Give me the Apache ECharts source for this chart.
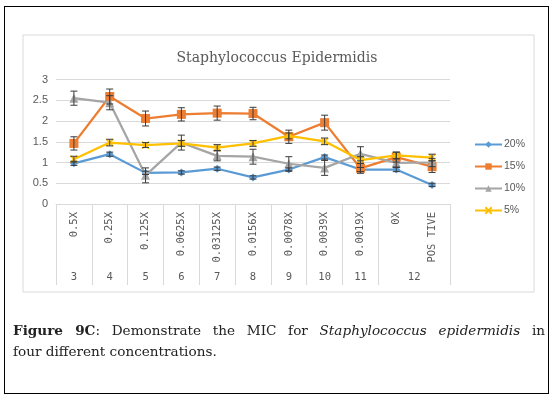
<!DOCTYPE html>
<html>
<head>
<meta charset="utf-8">
<script src="https://cdn.jsdelivr.net/npm/echarts@6/dist/echarts.min.js"></script>
<style>
  html, body { margin: 0; padding: 0; background: #fff; }
  #wrap { position: relative; width: 554px; height: 398px; }
  #chart { position: absolute; left: 0; top: 0; width: 554px; height: 398px; }
  #frame { position: absolute; left: 4px; top: 6px; width: 545px; height: 388px; border: 1.5px solid #000; box-sizing: border-box; }
  #caption { position: absolute; left: 13px; top: 320px; width: 532px; font-family: "DejaVu Serif", serif; font-size: 13.6px; line-height: 21px; color: #222; }
  #caption .l1 { display: block; text-align: justify; text-align-last: justify; }
</style>
</head>
<body>
<div id="wrap">
  <div id="frame"></div>
  <div id="chart"></div>
  <div id="caption"><span class="l1"><b>Figure 9C</b>: Demonstrate the MIC for <i>Staphylococcus epidermidis</i> in</span>four different concentrations.</div>
</div>
<script>
// 数据
const categories = ['0.5X', '0.25X', '0.125X', '0.0625X', '0.03125X', '0.0156X', '0.0078X', '0.0039X', '0.0019X', '0X', 'POS TIVE']
const groupLabels = ['3', '4', '5', '6', '7', '8', '9', '10', '11', '12']
const groupSpans = [1, 1, 1, 1, 1, 1, 1, 1, 1, 2]
const seriesNames = ['20%', '15%', '10%', '5%']
const values20 = [0.98, 1.20, 0.75, 0.76, 0.85, 0.64, 0.83, 1.13, 0.83, 0.83, 0.46]
const values15 = [1.46, 2.59, 2.06, 2.16, 2.19, 2.18, 1.62, 1.96, 0.86, 1.13, 0.90]
const values10 = [2.55, 2.44, 0.69, 1.48, 1.16, 1.14, 0.97, 0.87, 1.21, 0.99, 1.00]
const values5 = [1.08, 1.48, 1.42, 1.46, 1.36, 1.46, 1.64, 1.51, 1.06, 1.17, 1.12]
const errors20 = [0.05, 0.05, 0.04, 0.04, 0.04, 0.04, 0.04, 0.05, 0.05, 0.05, 0.04]
const errors15 = [0.16, 0.18, 0.18, 0.16, 0.17, 0.15, 0.16, 0.18, 0.12, 0.12, 0.14]
const errors10 = [0.17, 0.17, 0.18, 0.18, 0.12, 0.18, 0.17, 0.18, 0.17, 0.10, 0.10]
const errors5 = [0.07, 0.08, 0.06, 0.07, 0.07, 0.07, 0.07, 0.08, 0.08, 0.08, 0.08]
const yMin = 0
const yMax = 3
const yStep = 0.5

const colors = ['#5B9BD5', '#ED7D31', '#A5A5A5', '#FFC000']
const symbols = ['diamond', 'rect', 'triangle', 'path://M0,0 L10,10 M10,0 L0,10']
const symbolSizes = [8, 9, 9, 7]
const allValues = [values20, values15, values10, values5]
const allErrors = [errors20, errors15, errors10, errors5]

// 分组标签的位置 (组中心 / 组边界)
let groupBounds = [0]
let groupCenters = []
groupSpans.forEach(function (s) {
  let start = groupBounds[groupBounds.length - 1]
  groupCenters.push(start + s / 2)
  groupBounds.push(start + s)
})

const axisFont = 'DejaVu Sans Mono'
const grey = '#595959'

let myChart = echarts.init(document.getElementById('chart'))

let lineSeries = seriesNames.map(function (name, k) {
  return {
    name: name,
    type: 'line',
    data: allValues[k],
    xAxisIndex: 0,
    symbol: symbols[k],
    symbolSize: symbolSizes[k],
    showSymbol: true,
    lineStyle: { width: 2.25, color: colors[k] },
    itemStyle: k === 3
      ? { color: colors[k], borderColor: colors[k], borderWidth: 1.6 }
      : { color: colors[k], borderColor: colors[k], borderWidth: 0 },
    z: 2 + k
  }
})

// 误差线
let errorSeries = seriesNames.map(function (name, k) {
  return {
    name: name + ' err',
    type: 'custom',
    xAxisIndex: 0,
    data: allValues[k].map(function (v, i) { return [i, v, allErrors[k][i]] }),
    z: 10,
    silent: true,
    renderItem: function (params, api) {
      let x = api.value(0)
      let v = api.value(1)
      let e = api.value(2)
      let hi = api.coord([x, v + e])
      let lo = api.coord([x, v - e])
      let w = 3.5
      let style = { stroke: '#3b3b3b', lineWidth: 1 }
      return {
        type: 'group',
        children: [
          { type: 'line', shape: { x1: hi[0], y1: hi[1], x2: lo[0], y2: lo[1] }, style: style },
          { type: 'line', shape: { x1: hi[0] - w, y1: hi[1], x2: hi[0] + w, y2: hi[1] }, style: style },
          { type: 'line', shape: { x1: lo[0] - w, y1: lo[1], x2: lo[0] + w, y2: lo[1] }, style: style }
        ]
      }
    }
  }
})

let option = {
  animation: false,
  title: {
    text: 'Staphylococcus Epidermidis',
    left: 'center',
    top: 46,
    textStyle: { fontFamily: 'DejaVu Serif', fontSize: 14, fontWeight: 'normal', color: grey }
  },
  legend: {
    data: seriesNames,
    orient: 'vertical',
    left: 469,
    top: 134,
    itemWidth: 27,
    itemHeight: 8,
    itemGap: 11,
    textStyle: { fontFamily: 'Liberation Sans', fontSize: 10.5, color: grey, padding: [0, 0, 0, -3] }
  },
  grid: {
    left: 56,
    right: 104,
    top: 79.5,
    bottom: 194
  },
  graphic: [
    {
      type: 'rect',
      shape: { x: 23, y: 35, width: 511, height: 257 },
      style: { fill: 'none', stroke: '#d9d9d9', lineWidth: 1 },
      silent: true
    }
  ],
  xAxis: [
    {
      type: 'category',
      data: categories,
      boundaryGap: true,
      axisLine: { lineStyle: { color: '#d9d9d9' } },
      axisTick: { show: false },
      axisLabel: {
        rotate: 90,
        margin: 8,
        interval: 0,
        fontFamily: axisFont,
        fontSize: 10.5,
        color: grey
      },
      splitLine: { show: false }
    },
    {
      type: 'value',
      position: 'bottom',
      min: 0,
      max: categories.length,
      axisLine: { show: false },
      axisTick: {
        show: true,
        customValues: groupBounds,
        length: 81,
        lineStyle: { color: '#d9d9d9' }
      },
      axisLabel: {
        customValues: groupCenters,
        margin: 68,
        fontFamily: axisFont,
        fontSize: 10.5,
        color: grey,
        formatter: function (val) {
          let idx = groupCenters.findIndex(function (c) { return Math.abs(c - val) < 1e-6 })
          return idx >= 0 ? groupLabels[idx] : ''
        }
      },
      splitLine: { show: false }
    }
  ],
  yAxis: {
    type: 'value',
    min: yMin,
    max: yMax,
    interval: yStep,
    axisLine: { show: false },
    axisTick: { show: false },
    axisLabel: { fontFamily: 'Liberation Sans', fontSize: 11, color: grey, margin: 8 },
    splitLine: { lineStyle: { color: '#d9d9d9' } }
  },
  series: lineSeries.concat(errorSeries)
}

myChart.setOption(option)
window.addEventListener('resize', function () {
  myChart.resize()
})
</script>
</body>
</html>
